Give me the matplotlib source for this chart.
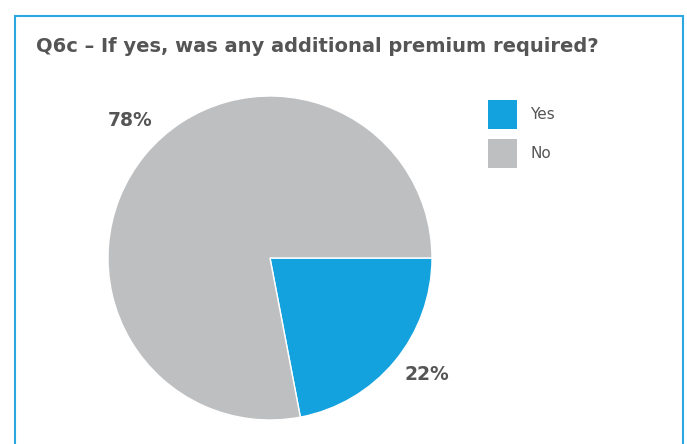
import numpy as np
import matplotlib
matplotlib.use('Agg')
import matplotlib.pyplot as plt
from matplotlib.patches import Rectangle

title = 'Q6c \u2013 If yes, was any additional premium required?'
categories = ['Yes', 'No']
shares = [22, 78]
colors = ['#13A2DE', '#BEBFC1']
text_color = '#555555'

W, H = 687, 444
fig = plt.figure(figsize=(W / 100, H / 100), dpi=100)

# frame around the chart, open at the bottom
fig.patches.append(Rectangle((15 / W, -0.05), (683 - 15) / W, 1.05 - 16 / H,
                             transform=fig.transFigure, fill=False,
                             edgecolor='#2AA8DF', linewidth=1.5))

fig.text(36 / W, 1 - 46 / H, title, fontsize=14, fontweight='bold',
         color=text_color, va='center', ha='left', family='DejaVu Sans')

# pie: centre (270, 258) px, radius 162 px
r = 162
ax = fig.add_axes([(270 - r) / W, (H - 258 - r) / H, 2 * r / W, 2 * r / H])
wedges, _ = ax.pie(shares, colors=colors, startangle=0, counterclock=False, radius=1,
                   wedgeprops=dict(edgecolor='white', linewidth=1))

# percentage labels outside the wedges, nudged toward the 3 o'clock split
nudge = [3, -5]
for w, val, dn in zip(wedges, shares, nudge):
    ang = np.deg2rad((w.theta1 + w.theta2) / 2 + dn)
    ax.text(1.21 * np.cos(ang), 1.21 * np.sin(ang), f'{val}%', fontsize=13.5,
            fontweight='bold', color=text_color, ha='center', va='center')
ax.set_xlim(-1, 1)
ax.set_ylim(-1, 1)
ax.set_aspect('equal')
ax.axis('off')

# legend
for i, (lab, col) in enumerate(zip(categories, colors)):
    y0 = 100 + i * 39
    fig.patches.append(Rectangle((488 / W, 1 - (y0 + 29) / H), 29 / W, 29 / H,
                                 transform=fig.transFigure, facecolor=col, edgecolor='none'))
    fig.text(530 / W, 1 - (y0 + 14) / H, lab, fontsize=11, color=text_color,
             va='center', ha='left')

fig.savefig('out.png', dpi=100, facecolor='white')
